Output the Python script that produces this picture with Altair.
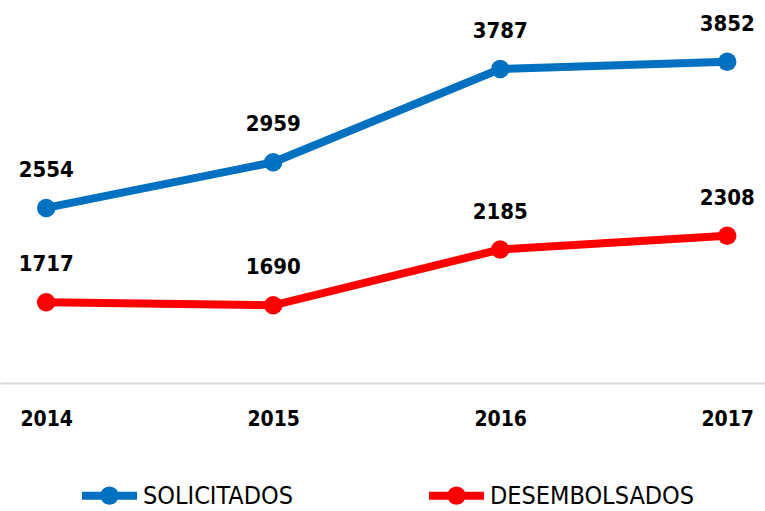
import altair as alt
import pandas as pd

years = ["2014", "2015", "2016", "2017"]
solicitados = [2554, 2959, 3787, 3852]
desembolsados = [1717, 1690, 2185, 2308]
series_names = ["SOLICITADOS", "DESEMBOLSADOS"]
colors = ["#0070C0", "#FF0000"]

rows = []
for y, v in zip(years, solicitados):
    rows.append({"year": y, "value": v, "serie": series_names[0]})
for y, v in zip(years, desembolsados):
    rows.append({"year": y, "value": v, "serie": series_names[1]})
df = pd.DataFrame(rows)

FONT = "DejaVu Sans Condensed"

x = alt.X("year:O", scale=alt.Scale(type="point", padding=0.185, align=0.55),
          axis=alt.Axis(title=None, labelAngle=0, ticks=False, domainColor="#d9d9d9",
                        domainWidth=2, labelFont=FONT, labelFontSize=21, labelFontWeight="bold",
                        labelColor="#000000", labelPadding=25, grid=False))
y = alt.Y("value:Q", scale=alt.Scale(domain=[1000, 4400], nice=False, zero=False), axis=None)
color = alt.Color("serie:N", scale=alt.Scale(domain=series_names, range=colors),
                  legend=alt.Legend(title=None, orient="none", legendX=78, legendY=464,
                                    direction="horizontal", labelFont=FONT, labelFontSize=25,
                                    labelColor="#000000",
                                    symbolType="M-1,0H1M-0.19,0A0.19,0.19 0 1,0 0.19,0A0.19,0.19 0 1,0 -0.19,0",
                                    symbolSize=3025, symbolStrokeWidth=8, columnPadding=120,
                                    labelOffset=2, labelLimit=400))

base = alt.Chart(df)
lines = base.mark_line(strokeWidth=8).encode(x=x, y=y, color=color)
points = base.mark_circle(size=340, opacity=1).encode(x=x, y=y, color=color)
labels = base.mark_text(dy=-38, font=FONT, fontSize=22, fontWeight="bold", color="#000000").encode(
    x=x, y=y, text="value:Q")

chart = (lines + points + labels).properties(
    width=765, height=383,
    background="#ffffff",
    autosize=alt.AutoSizeParams(type="none"),
    padding={"left": 0, "top": 0, "right": 0, "bottom": 128},
).configure_view(stroke=None, strokeWidth=0)

chart.save("out.html", embed_options={"renderer": "svg", "actions": False})
